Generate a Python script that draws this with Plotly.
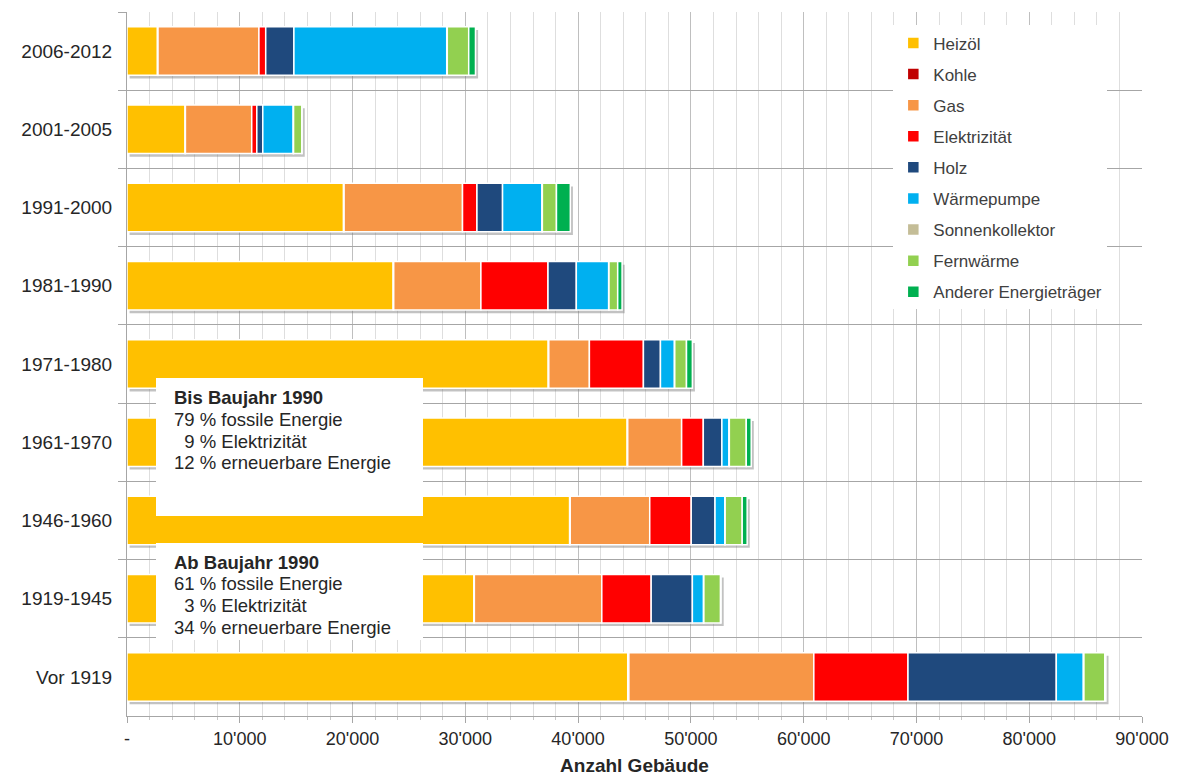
import plotly.graph_objects as go

categories = ["2006-2012", "2001-2005", "1991-2000", "1981-1990", "1971-1980",
              "1961-1970", "1946-1960", "1919-1945", "Vor 1919"]

heizoel = [2700, 5150, 19200, 23600, 37350, 44350, 39250, 30750, 44400]
kohle = [50, 30, 50, 50, 50, 50, 50, 50, 100]
gas = [8950, 5880, 10500, 7730, 3600, 4780, 7050, 11300, 16400]
elektrizitaet = [600, 450, 1280, 5950, 4790, 1920, 3680, 4380, 8350]
holz = [2500, 530, 2270, 2510, 1510, 1650, 2110, 3650, 13150]
waermepumpe = [13550, 2700, 3500, 2870, 1240, 630, 870, 990, 2400]
sonnenkollektor = [50, 30, 30, 30, 30, 30, 30, 30, 50]
fernwaerme = [1900, 730, 1250, 770, 1040, 1500, 1510, 1480, 1850]
anderer = [600, 30, 1230, 390, 520, 440, 440, 50, 100]

series = [
    ("Heizöl", heizoel, "#FFC000"),
    ("Kohle", kohle, "#C00000"),
    ("Gas", gas, "#F79646"),
    ("Elektrizität", elektrizitaet, "#FF0000"),
    ("Holz", holz, "#1F497D"),
    ("Wärmepumpe", waermepumpe, "#00B0F0"),
    ("Sonnenkollektor", sonnenkollektor, "#C4BD97"),
    ("Fernwärme", fernwaerme, "#92D050"),
    ("Anderer Energieträger", anderer, "#00B050"),
]

x_tickvals = [0, 10000, 20000, 30000, 40000, 50000, 60000, 70000, 80000, 90000]
x_ticktext = ["-", "10'000", "20'000", "30'000", "40'000", "50'000",
              "60'000", "70'000", "80'000", "90'000"]

box1_lines = ["<b>Bis Baujahr 1990</b>", "79 % fossile Energie",
              "\u00a0\u00a09 % Elektrizität", "12 % erneuerbare Energie"]
box2_lines = ["<b>Ab Baujahr 1990</b>", "61 % fossile Energie",
              "\u00a0\u00a03 % Elektrizität", "34 % erneuerbare Energie"]

FONT = "Liberation Sans, Arial, sans-serif"
BAR_W = 0.62

# cumulative bases and totals derived from the series
n = len(categories)
bases = []
running = [0] * n
for _, vals, _ in series:
    bases.append(list(running))
    running = [r + v for r, v in zip(running, vals)]
totals = running

fig = go.Figure()
# soft drop shadow behind each bar
fig.add_trace(go.Bar(
    y=categories, x=totals, base=[230] * n, orientation="h",
    width=BAR_W, offset=-BAR_W / 2 + 0.04,
    marker=dict(color="rgba(120,120,120,0.45)", line=dict(width=0)),
    showlegend=False, hoverinfo="skip",
))
for i, (name, vals, col) in enumerate(series):
    fig.add_trace(go.Bar(
        y=categories, x=vals, base=bases[i], orientation="h", name=name,
        marker=dict(color=col, line=dict(color="white", width=1.5)),
        width=BAR_W, legendgroup=str(i),
    ))

W, H = 1185, 776
L, R, T, B = 127, 43, 12, 60
pw, ph = W - L - R, H - T - B


def px_x(x):
    return (x - L) / pw


def px_y(y):
    return 1 - (y - T) / ph


shapes = []
annotations = []
for (x0, y0, x1, y1, lines, tx, tys) in [
    (156, 378, 423, 516, box1_lines, 172, [397, 419, 441, 462]),
    (156, 543, 423, 640, box2_lines, 172, [562, 583, 605, 627]),
]:
    shapes.append(dict(type="rect", xref="paper", yref="paper",
                       x0=px_x(x0), x1=px_x(x1), y0=px_y(y1), y1=px_y(y0),
                       fillcolor="white", line=dict(width=0), layer="above"))
    for line, ty in zip(lines, tys):
        annotations.append(dict(xref="paper", yref="paper", x=px_x(tx), y=px_y(ty),
                                xanchor="left", yanchor="middle", align="left",
                                showarrow=False, text=line,
                                font=dict(family=FONT, size=18.5, color="#262626")))

fig.update_layout(
    width=W, height=H,
    margin=dict(l=L, r=R, t=T, b=B, pad=0),
    barmode="overlay",
    plot_bgcolor="white",
    paper_bgcolor="white",
    font=dict(family=FONT, size=14, color="#262626"),
    shapes=shapes,
    annotations=annotations,
    legend=dict(
        x=0.755, y=0.981, xanchor="left", yanchor="top",
        bgcolor="white", borderwidth=0,
        traceorder="grouped", tracegroupgap=6,
        font=dict(family=FONT, size=17, color="#404040"),
    ),
    xaxis=dict(
        range=[0, 90000],
        tickvals=x_tickvals, ticktext=x_ticktext,
        showgrid=True, gridcolor="#BFBFBF", gridwidth=1,
        ticks="outside", ticklen=6, tickcolor="#A6A6A6",
        showline=True, linecolor="#A6A6A6",
        tickfont=dict(family=FONT, size=18, color="#262626"),
        minor=dict(dtick=2000, showgrid=True, gridcolor="#DEDEDE",
                   ticks="outside", ticklen=3, tickcolor="#C8C8C8"),
        title=dict(text="<b>Anzahl Gebäude</b>", standoff=11,
                   font=dict(family=FONT, size=19, color="#262626")),
        zeroline=False,
        automargin=False,
    ),
    yaxis=dict(
        autorange="reversed",
        categoryorder="array", categoryarray=categories,
        tickson="boundaries",
        showgrid=True, gridcolor="#A6A6A6", gridwidth=1,
        ticks="outside", ticklen=8, tickcolor="#A6A6A6",
        ticklabelstandoff=10,
        showline=True, linecolor="#A6A6A6",
        tickfont=dict(family=FONT, size=19, color="#262626"),
        automargin=False,
    ),
)

fig.write_html("out.html", config={"displayModeBar": False},
               post_script="document.body.style.margin='0px';")
